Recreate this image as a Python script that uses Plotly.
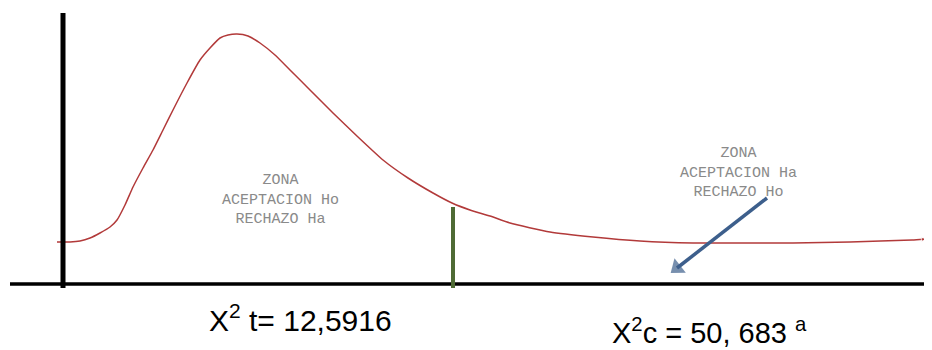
import plotly.graph_objects as go

# Curve (x grows right, y grows downward, in image pixels)
curve_x = [57, 70, 80, 90, 100, 110, 117, 125, 133, 143, 153, 163, 173, 187, 200, 210, 220, 228,
           237, 248, 260, 275, 290, 310, 333, 358, 383, 408, 433, 452, 470, 490, 510, 550, 593,
           640, 693, 750, 793, 850, 912, 928]
curve_y = [242, 242, 241, 238, 233, 227, 220, 205, 187, 168, 150, 130, 110, 83, 60, 48, 38, 35,
           34, 36, 43, 55, 70, 90, 113, 137, 160, 178, 193, 203, 210, 216, 223, 232, 237,
           241, 243, 243, 243, 242, 240, 239]

# Blue pointer arrow (start -> tip)
pointer_x = [767, 677]
pointer_y = [198, 268]

# Reference lines
y_axis_x, y_axis_top, y_axis_bottom = 63, 13, 288
x_axis_y, x_axis_left, x_axis_right = 284, 10, 932
crit_x, crit_top, crit_bottom = 453, 207, 288

left_zone = ["ZONA", "ACEPTACION Ho", "RECHAZO Ha"]
left_zone_x, left_zone_y = 280, 200
right_zone = ["ZONA", "ACEPTACION Ha", "RECHAZO Ho"]
right_zone_x, right_zone_y = 738, 173

label_t = "X<sup>2</sup> t= 12,5916"
label_c = "X<sup>2</sup>c = 50, 683 <sup>a</sup>"

# The page body has an 8px margin; shift the visible window so image pixels land in place
OFF = 8
W, H = 932, 350

fig = go.Figure()
n = len(curve_x)
fig.add_trace(go.Scatter(x=curve_x, y=curve_y, mode="lines+markers",
                         line=dict(color="#b23a3a", width=1.5, shape="spline", smoothing=0.5),
                         marker=dict(symbol="arrow", angleref="previous",
                                     size=[0] * (n - 1) + [7], color="#b23a3a"),
                         hoverinfo="skip", showlegend=False))
fig.add_trace(go.Scatter(x=pointer_x, y=pointer_y, mode="lines+markers",
                         line=dict(color="#3d5f8c", width=3.5),
                         marker=dict(symbol="triangle-up", angleref="previous", size=[0, 16],
                                     color="#3d5f8c", line=dict(width=0)),
                         hoverinfo="skip", showlegend=False))

shapes = [
    dict(type="line", x0=x_axis_left, x1=x_axis_right, y0=x_axis_y, y1=x_axis_y,
         line=dict(color="black", width=3.5)),
    dict(type="line", x0=y_axis_x, x1=y_axis_x, y0=y_axis_top, y1=y_axis_bottom,
         line=dict(color="black", width=5)),
    dict(type="line", x0=crit_x, x1=crit_x, y0=crit_top, y1=crit_bottom,
         line=dict(color="#4f6b35", width=4)),
]

zone_font = dict(family="Liberation Mono", size=15, color="#8a8a8a")
annotations = [
    dict(x=left_zone_x, y=left_zone_y, text="<br>".join(left_zone), showarrow=False,
         font=zone_font, align="center", xanchor="center", yanchor="middle"),
    dict(x=right_zone_x, y=right_zone_y, text="<br>".join(right_zone), showarrow=False,
         font=zone_font, align="center", xanchor="center", yanchor="middle"),
    dict(x=207, y=318, text=label_t, showarrow=False, xanchor="left", yanchor="middle",
         font=dict(family="Liberation Sans", size=30, color="black")),
    dict(x=610, y=331, text=label_c, showarrow=False, xanchor="left", yanchor="middle",
         font=dict(family="Liberation Sans", size=29, color="black")),
]

fig.update_layout(
    width=W - OFF, height=H - OFF,
    margin=dict(l=0, r=0, t=0, b=0),
    paper_bgcolor="white", plot_bgcolor="white",
    xaxis=dict(range=[OFF, W], visible=False, fixedrange=True),
    yaxis=dict(range=[H, OFF], visible=False, fixedrange=True),
    shapes=shapes, annotations=annotations,
    showlegend=False,
)

fig.write_html("out.html", config={"displayModeBar": False})
